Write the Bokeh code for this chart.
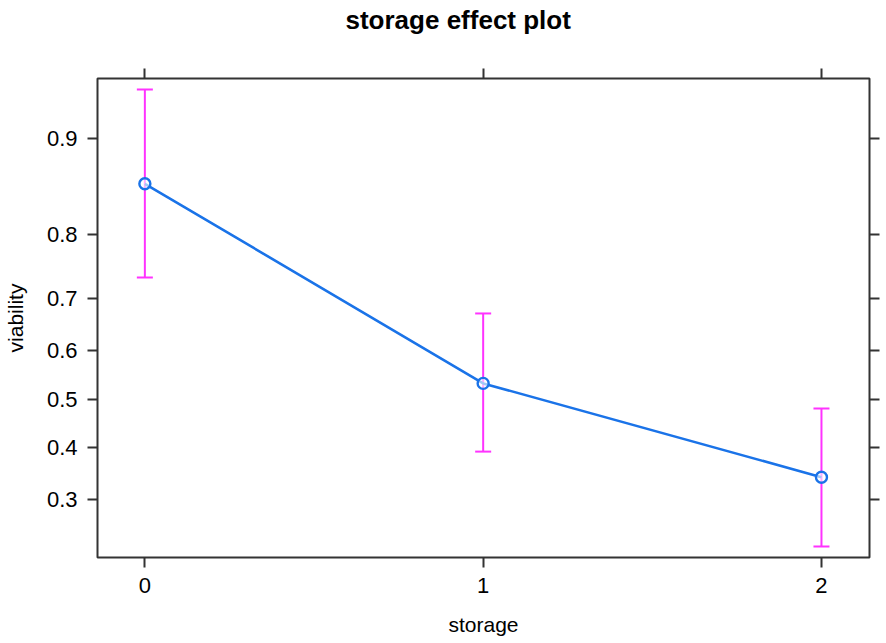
import numpy as np
from bokeh.plotting import figure
from bokeh.models import (Range1d, FixedTicker, LinearAxis, ColumnDataSource,
                          Whisker, TeeHead, Title)
from bokeh.embed import file_html
from bokeh.resources import INLINE

storage = [0, 1, 2]
fit = [0.860, 0.533, 0.341]
lower = [0.736, 0.391, 0.224]
upper = [0.9315, 0.673, 0.480]
y_ticks = [0.3, 0.4, 0.5, 0.6, 0.7, 0.8, 0.9]
x_ticks = [0, 1, 2]


def logit(p):
    p = np.asarray(p, dtype=float)
    return np.log(p / (1 - p))


FONT = "Liberation Sans"
AX = "#333333"
BLUE = "#1a73e8"
MAG = "#ff33ff"

p = figure(width=880, height=640, output_backend="svg", toolbar_location=None,
           x_range=Range1d(-0.14, 2.142), y_range=Range1d(-1.336, 2.703),
           min_border_left=97, min_border_right=11, min_border_top=78,
           min_border_bottom=83, title=None)
p.grid.visible = False
p.outline_line_color = AX
p.outline_line_width = 2
p.background_fill_color = "white"
p.border_fill_color = "white"

ytick_pos = [float(v) for v in logit(y_ticks)]
overrides = {v: f"{t:.1f}" for v, t in zip(ytick_pos, y_ticks)}

for ax in (p.xaxis[0], p.yaxis[0]):
    ax.axis_line_color = None
    ax.major_tick_line_color = AX
    ax.major_tick_line_width = 2
    ax.major_tick_out = 10
    ax.major_tick_in = 0
    ax.minor_tick_line_color = None
    ax.major_label_text_font = FONT
    ax.major_label_text_font_size = "22px"
    ax.major_label_text_color = "black"
    ax.axis_label_text_font = FONT
    ax.axis_label_text_font_size = "21px"
    ax.axis_label_text_font_style = "normal"
    ax.axis_label_text_color = "black"

p.xaxis[0].ticker = FixedTicker(ticks=x_ticks)
p.xaxis[0].axis_label = "storage"
p.xaxis[0].major_label_standoff = 10
p.xaxis[0].axis_label_standoff = 17

p.yaxis[0].ticker = FixedTicker(ticks=ytick_pos)
p.yaxis[0].major_label_overrides = overrides
p.yaxis[0].axis_label = "viability"
p.yaxis[0].major_label_standoff = 10
p.yaxis[0].axis_label_standoff = 17

top = LinearAxis(ticker=FixedTicker(ticks=[], minor_ticks=x_ticks))
right = LinearAxis(ticker=FixedTicker(ticks=[], minor_ticks=ytick_pos))
for ax in (top, right):
    ax.axis_line_color = None
    ax.major_tick_line_color = None
    ax.minor_tick_line_color = AX
    ax.minor_tick_line_width = 2
    ax.minor_tick_out = 10
    ax.minor_tick_in = 0
    ax.major_label_standoff = 0
p.add_layout(top, "above")
p.add_layout(right, "right")

t = Title(text="storage effect plot", align="left",
          text_font=FONT, text_font_size="26px", text_font_style="bold",
          text_color="black", standoff=1, offset=248,
          padding=dict(left=0, right=0, top=0, bottom=33))
p.add_layout(t, "above")

src = ColumnDataSource(dict(x=storage, y=logit(fit), lo=logit(lower), hi=logit(upper)))

w = Whisker(source=src, base="x", lower="lo", upper="hi", dimension="height",
            line_color=MAG, line_width=2,
            lower_head=TeeHead(size=16, line_color=MAG, line_width=2),
            upper_head=TeeHead(size=16, line_color=MAG, line_width=2))
p.add_layout(w)

p.line("x", "y", source=src, line_color=BLUE, line_width=2.6)
p.scatter("x", "y", source=src, size=11, marker="circle", line_color=BLUE,
          line_width=2.4, fill_color="white", fill_alpha=0.6)

open("out.html", "w").write(file_html(p, INLINE))
